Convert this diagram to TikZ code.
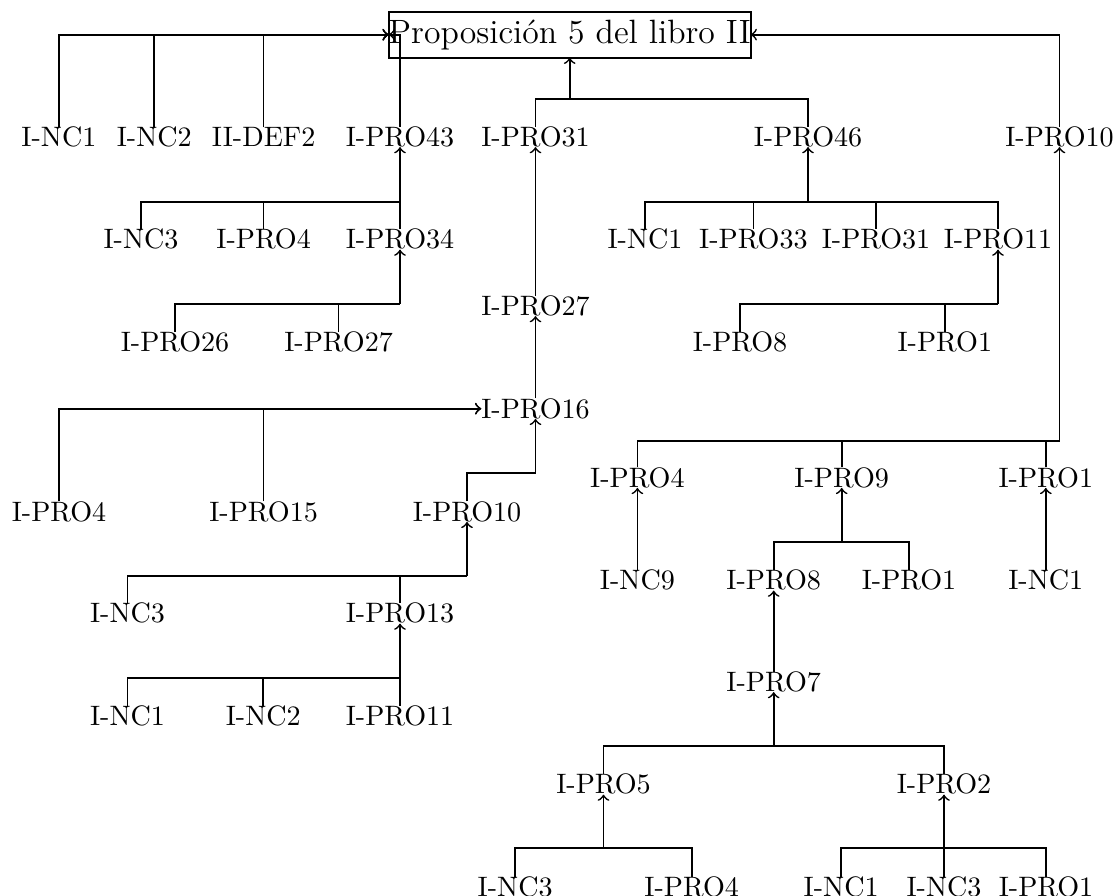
\documentclass[tikz,border=0pt]{standalone}
\begin{document}
\begin{tikzpicture}[x=0.35587pt,y=-0.35587pt,
  lbl/.style={inner sep=0pt, outer sep=0pt, anchor=base},
  rootbox/.style={draw, line width=0.7pt, inner sep=0pt, outer sep=0pt, minimum width=128.4pt, minimum height=16.4pt, font=\large},
  every path/.style={line width=0.6pt},
  >=to]
\useasboundingbox (0,0) rectangle (1117,896);
\node[rootbox] (root) at (569.7,34.7) {Proposición 5 del libro II};
% row A
\node[lbl] (a1) at (58.9,146.5) {I-NC1};
\node[lbl] (a2) at (154.3,146.5) {I-NC2};
\node[lbl] (a3) at (263.6,146.5) {II-DEF2};
\node[lbl] (a4) at (400,146.5) {I-PRO43};
\node[lbl] (a5) at (535.5,146.5) {I-PRO31};
\node[lbl] (a6) at (808,146.5) {I-PRO46};
\node[lbl] (a7) at (1059.5,146.5) {I-PRO10};
% row B
\node[lbl] (b1) at (141,249) {I-NC3};
\node[lbl] (b2) at (263.6,249) {I-PRO4};
\node[lbl] (b3) at (400,249) {I-PRO34};
\node[lbl] (b4) at (645,249) {I-NC1};
\node[lbl] (b5) at (753.4,249) {I-PRO33};
\node[lbl] (b6) at (876,249) {I-PRO31};
\node[lbl] (b7) at (998,249) {I-PRO11};
% row C
\node[lbl] (c1) at (175,351.5) {I-PRO26};
\node[lbl] (c2) at (338.6,351.5) {I-PRO27};
\node[lbl] (c3) at (740,351.5) {I-PRO8};
\node[lbl] (c4) at (944.8,351.5) {I-PRO1};
% centre column
\node[lbl] (d1) at (535.5,315.5) {I-PRO27};
\node[lbl] (e1) at (535.5,418.3) {I-PRO16};
% left lower
\node[lbl] (f1) at (59,521.3) {I-PRO4};
\node[lbl] (f2) at (263.6,521.3) {I-PRO15};
\node[lbl] (f3) at (467,521.3) {I-PRO10};
\node[lbl] (g1) at (127.5,623) {I-NC3};
\node[lbl] (g2) at (400,623) {I-PRO13};
\node[lbl] (h1) at (127.5,725.5) {I-NC1};
\node[lbl] (h2) at (263.3,725.5) {I-NC2};
\node[lbl] (h3) at (400,725.5) {I-PRO11};
% right lower
\node[lbl] (r1) at (637.4,487.3) {I-PRO4};
\node[lbl] (r2) at (841.7,487.3) {I-PRO9};
\node[lbl] (r3) at (1045.8,487.3) {I-PRO1};
\node[lbl] (s1) at (637.4,590) {I-NC9};
\node[lbl] (s2) at (773.7,590) {I-PRO8};
\node[lbl] (s3) at (909,590) {I-PRO1};
\node[lbl] (s4) at (1045.8,590) {I-NC1};
\node[lbl] (t1) at (773.7,691.5) {I-PRO7};
\node[lbl] (u1) at (603.5,794) {I-PRO5};
\node[lbl] (u2) at (944,794) {I-PRO2};
\node[lbl] (v1) at (515.2,896.5) {I-NC3};
\node[lbl] (v2) at (691.7,896.5) {I-PRO4};
\node[lbl] (v3) at (841.2,896.5) {I-NC1};
\node[lbl] (v4) at (944,896.5) {I-NC3};
\node[lbl] (v5) at (1046,896.5) {I-PRO1};
% junctions
\coordinate (j0) at (root.south |- 0,99.3);
\coordinate (j1) at (a4.south |- 0,202.3);
\coordinate (j2) at (b3.south |- 0,304);
\coordinate (j3) at (a6.south |- 0,202.3);
\coordinate (j4) at (b7.south |- 0,304);
\coordinate (j5) at (e1.south |- 0,473.3);
\coordinate (j6) at (f3.south |- 0,576);
\coordinate (j7) at (g2.south |- 0,678.3);
\coordinate (j8) at (a7.south |- 0,440.7);
\coordinate (j9) at (r2.south |- 0,541.7);
\coordinate (j10) at (t1.south |- 0,745.7);
\coordinate (j11) at (u1.south |- 0,848.3);
\coordinate (j12) at (u2.south |- 0,848.3);
% connectors to root
\foreach \c in {a1,a2,a3,a4} \draw[->] (\c.north) |- (root.west);
\foreach \c in {a5,a6} \draw (\c.north) |- (j0);
\draw[->] (j0) -- (root.south);
\draw[->] (a7.north) |- (root.east);
% I-PRO43
\foreach \c in {b1,b2,b3} \draw (\c.north) |- (j1);
\draw[->] (j1) -- (a4.south);
% I-PRO34
\foreach \c in {c1,c2} \draw (\c.north) |- (j2);
\draw[->] (j2) -- (b3.south);
% I-PRO46
\foreach \c in {b4,b5,b6,b7} \draw (\c.north) |- (j3);
\draw[->] (j3) -- (a6.south);
% I-PRO11
\foreach \c in {c3,c4} \draw (\c.north) |- (j4);
\draw[->] (j4) -- (b7.south);
% centre chain
\draw[->] (d1.north) -- (a5.south);
\draw[->] (e1.north) -- (d1.south);
\foreach \c in {f1,f2} \draw[->] (\c.north) |- (e1.west);
\draw (f3.north) |- (j5);
\draw[->] (j5) -- (e1.south);
\foreach \c in {g1,g2} \draw (\c.north) |- (j6);
\draw[->] (j6) -- (f3.south);
\foreach \c in {h1,h2,h3} \draw (\c.north) |- (j7);
\draw[->] (j7) -- (g2.south);
% right chain
\foreach \c in {r1,r2,r3} \draw (\c.north) |- (j8);
\draw[->] (j8) -- (a7.south);
\draw[->] (s1.north) -- (r1.south);
\foreach \c in {s2,s3} \draw (\c.north) |- (j9);
\draw[->] (j9) -- (r2.south);
\draw[->] (s4.north) -- (r3.south);
\draw[->] (t1.north) -- (s2.south);
\foreach \c in {u1,u2} \draw (\c.north) |- (j10);
\draw[->] (j10) -- (t1.south);
\foreach \c in {v1,v2} \draw (\c.north) |- (j11);
\draw[->] (j11) -- (u1.south);
\foreach \c in {v3,v4,v5} \draw (\c.north) |- (j12);
\draw[->] (j12) -- (u2.south);
\end{tikzpicture}
\end{document}
